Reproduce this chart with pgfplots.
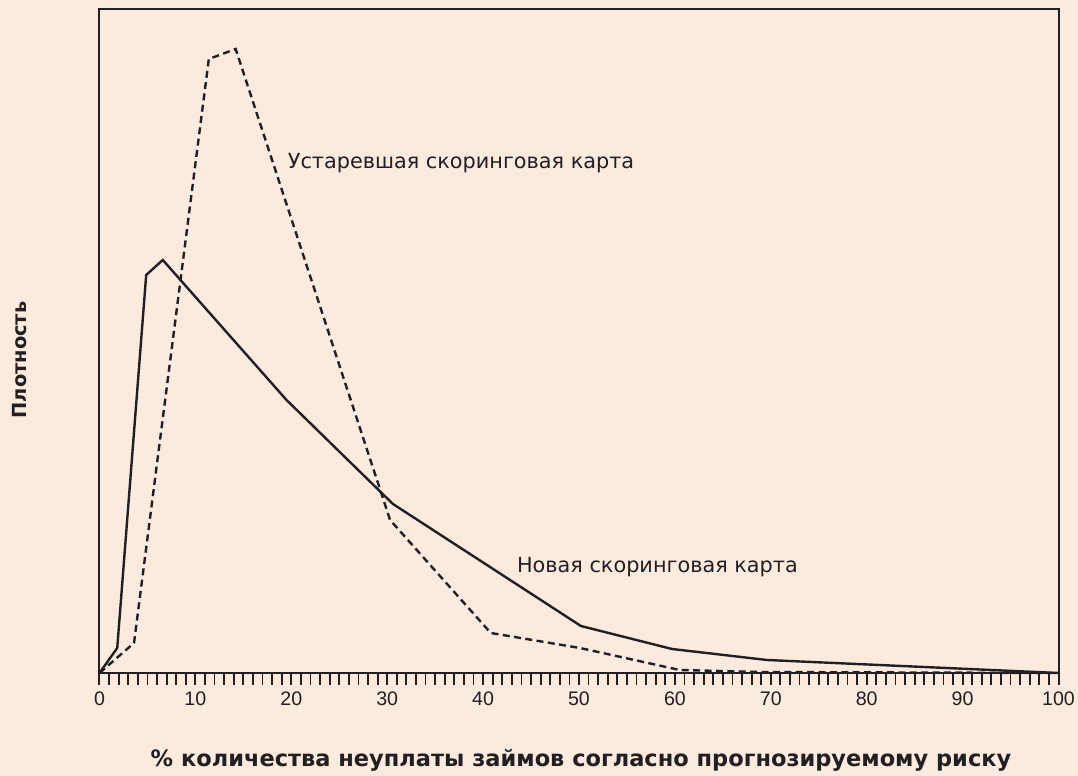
\documentclass[border=0pt]{standalone}
\usepackage{pgfplots}
\pgfplotsset{compat=1.18}
\usepackage{fontspec}
\setmainfont{Liberation Sans}
\newfontfamily\dejavu{DejaVu Sans}
\definecolor{bg}{RGB}{251,235,223}
\definecolor{ink}{RGB}{35,31,32}
\begin{document}
\begin{tikzpicture}[x=1pt,y=1pt]
\fill[bg] (0,0) rectangle (539,388);
\useasboundingbox (0,0) rectangle (539,388);
\begin{axis}[
  at={(49.75pt,51.5pt)}, anchor=south west,
  scale only axis, width=479.5pt, height=331.75pt,
  xmin=0, xmax=100, ymin=0, ymax=663.5,
  axis line style={ink, line width=1pt},
  xtick={0,10,...,100}, minor x tick num=9, ytick=\empty,
  xtick pos=bottom, tick align=outside,
  major tick length=6pt, minor tick length=6pt,
  major tick style={ink, line width=1pt},
  minor tick style={ink, line width=0.9pt},
  tick label style={font=\fontsize{9.8}{11}\selectfont, text=ink},
  /pgf/number format/assume math mode=true,
  clip=false,
]
% new scorecard (solid)
\addplot[ink, line width=1.2pt] coordinates {
 (0,0) (1.85,25) (4.87,398) (6.6,413) (19.5,273) (30.6,169) (50.2,47) (59.7,24) (69.6,13) (100,0)
};
% old scorecard (dashed)
\addplot[ink, line width=1.2pt, dash pattern=on 3.5pt off 2.2pt] coordinates {
 (0,0) (3.6,30) (11.4,614) (14.2,624) (30.3,153) (40.8,40) (50.1,25) (60.5,3) (69,1) (100,0)
};
\node[anchor=west, text=ink, inner sep=0pt, font=\dejavu\fontsize{10.4}{12}\selectfont] at (axis cs:19.6,510) {Устаревшая скоринговая карта};
\node[anchor=west, text=ink, inner sep=0pt, font=\dejavu\fontsize{10.4}{12}\selectfont] at (axis cs:43.5,106) {Новая скоринговая карта};
\end{axis}
\node[text=ink, font=\dejavu\bfseries\fontsize{11.25}{13}\selectfont] at (290.5,8) {\% количества неуплаты займов согласно прогнозируемому риску};
\node[text=ink, rotate=90, font=\dejavu\bfseries\fontsize{9.7}{11}\selectfont] at (9.75,208) {Плотность};
\end{tikzpicture}
\end{document}
